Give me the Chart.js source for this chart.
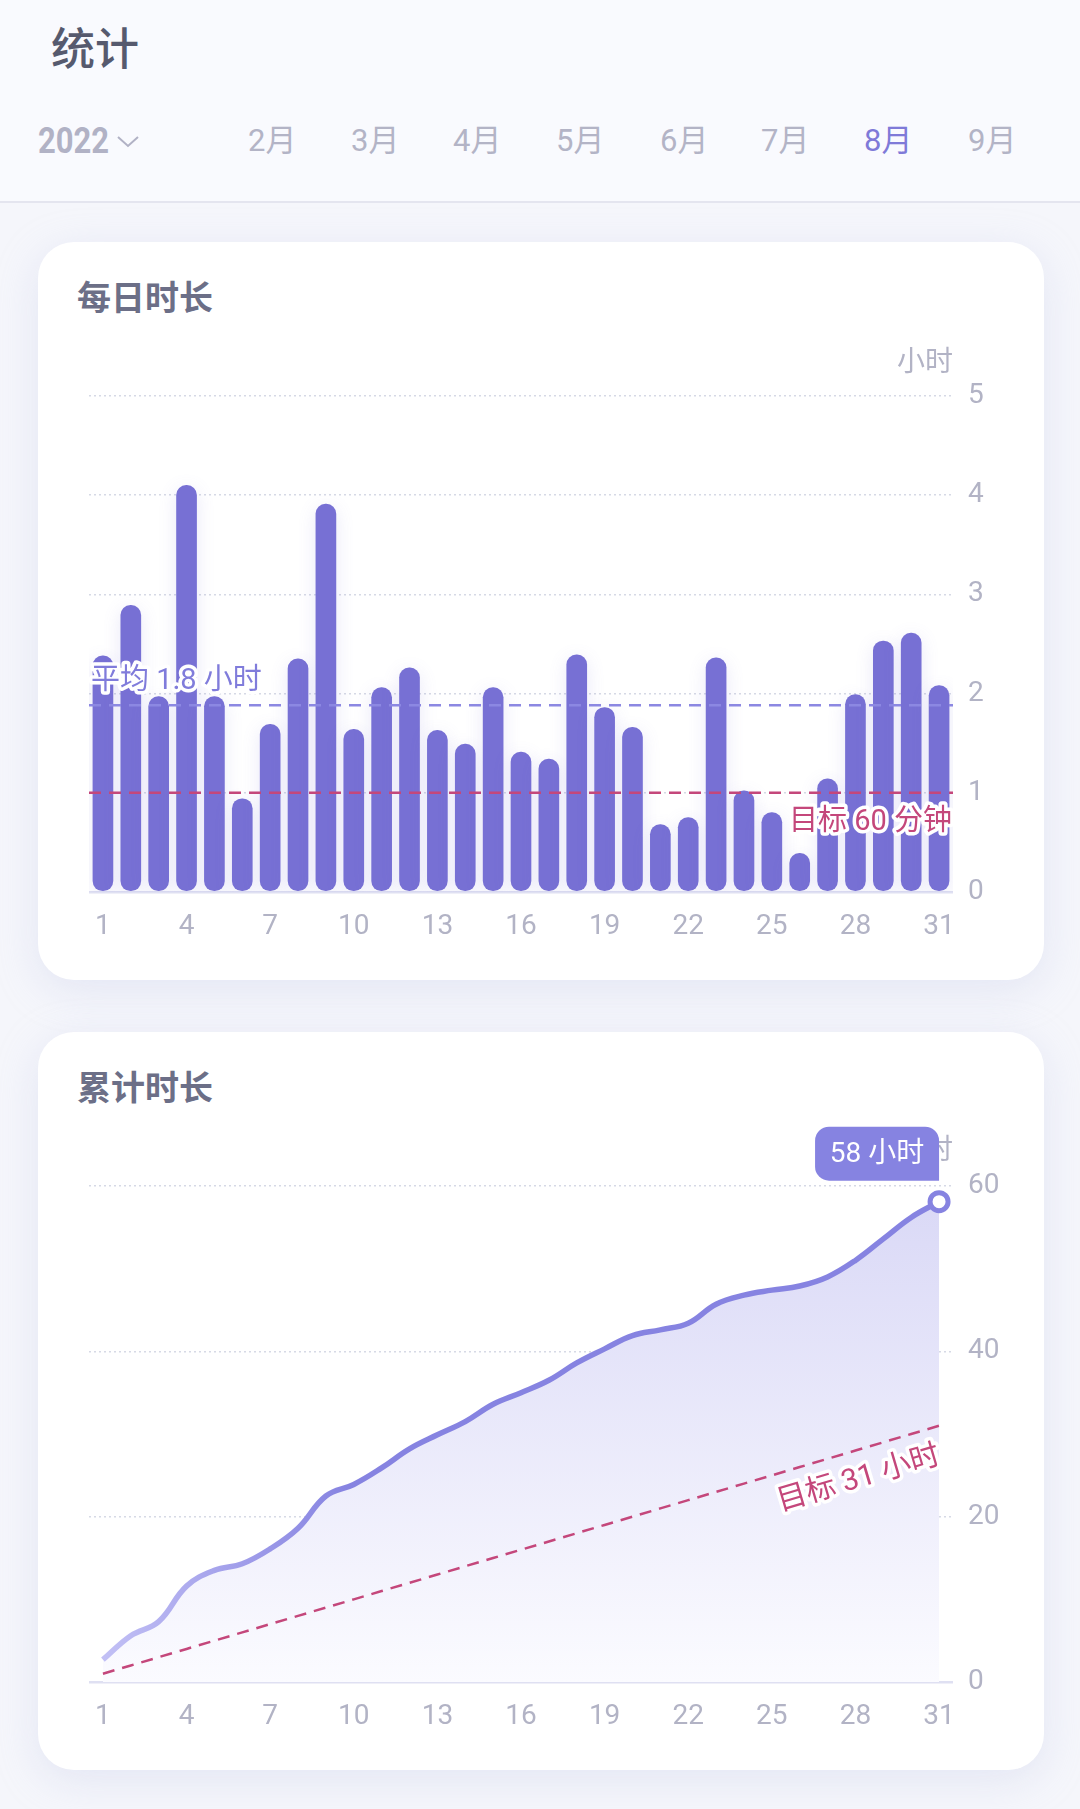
<!DOCTYPE html>
<html lang="zh">
<head>
<meta charset="utf-8">
<title>统计</title>
<script src="https://cdn.jsdelivr.net/npm/chart.js@4.4.1/dist/chart.umd.min.js"></script>
<style>
  html, body { margin: 0; padding: 0; }
  body {
    width: 1080px; height: 1809px; position: relative; overflow: hidden;
    background: #f5f6fb;
    font-family: Roboto, "Noto Sans CJK SC", sans-serif;
  }
  .header {
    position: absolute; left: 0; top: 0; width: 1080px; height: 201px;
    background: #f9fafe; border-bottom: 2px solid #e4e5ef;
  }
  .page-title {
    position: absolute; left: 51px; top: 20px;
    font-family: "Noto Sans CJK SC"; font-size: 44px; line-height: 52px; font-weight: 500;
    color: #565a6e;
  }
  .year {
    position: absolute; left: 38px; top: 121px;
    font-size: 36px; line-height: 40px; font-weight: 700; color: #b1b2c5;
    transform: scaleX(0.86); transform-origin: left center;
  }
  .chev { position: absolute; left: 117px; top: 136px; }
  .month {
    position: absolute; top: 121px;
    font-size: 31px; line-height: 40px; color: #b3b4c6;
  }
  .month.active { color: #7f7ad8; }
  .card {
    position: absolute; left: 38px; width: 1006px; height: 738px;
    background: #fff; border-radius: 36px;
    box-shadow: 0 10px 40px rgba(196, 200, 232, 0.35);
  }
  .card-title {
    position: absolute; left: 39px; top: 34px;
    font-family: "Noto Sans CJK SC"; font-size: 34px; line-height: 40px; font-weight: 700;
    color: #6c6f87;
  }
  .card canvas { position: absolute; left: 0; top: 0; }
</style>
</head>
<body>

<div class="header">
  <div class="page-title">统计</div>
  <div class="year">2022</div>
  <svg class="chev" width="22" height="12" viewBox="0 0 22 12">
    <polyline points="1,1 11,10 21,1" fill="none" stroke="#b1b2c5" stroke-width="2"/>
  </svg>
  <div class="month" style="left:248px">2月</div>
  <div class="month" style="left:351px">3月</div>
  <div class="month" style="left:453px">4月</div>
  <div class="month" style="left:556px">5月</div>
  <div class="month" style="left:660px">6月</div>
  <div class="month" style="left:761px">7月</div>
  <div class="month active" style="left:864px">8月</div>
  <div class="month" style="left:968px">9月</div>
</div>

<div class="card" style="top:242px">
  <div class="card-title">每日时长</div>
  <canvas id="dailyChart" width="1006" height="738"></canvas>
</div>

<div class="card" style="top:1032px">
  <div class="card-title">累计时长</div>
  <canvas id="totalChart" width="1006" height="738"></canvas>
</div>

<script>
// August, one entry per day
const days = ["1", "2", "3", "4", "5", "6", "7", "8", "9", "10", "11", "12", "13", "14", "15", "16",
  "17", "18", "19", "20", "21", "22", "23", "24", "25", "26", "27", "28", "29", "30", "31"];

// hours per day
const dailyHours = [2.38, 2.89, 1.97, 4.10, 1.97, 0.94, 1.69, 2.35, 3.91, 1.64, 2.06, 2.26, 1.63, 1.49, 2.06, 1.41,
  1.34, 2.39, 1.86, 1.66, 0.68, 0.75, 2.36, 1.02, 0.80, 0.39, 1.14, 1.99, 2.53, 2.61, 2.08];

// running total in hours
const totalHours = [2.7, 5.6, 7.3, 11.6, 13.5, 14.3, 16.1, 18.6, 22.5, 23.9, 25.9, 28.2, 29.9, 31.5, 33.6, 35.0,
  36.5, 38.6, 40.3, 41.9, 42.6, 43.4, 45.7, 46.8, 47.4, 47.9, 49.0, 51.0, 53.6, 56.2, 58.1];

// goal: 1 hour a day
const goalDaily = 1;
const goalTotal = [1, 2, 3, 4, 5, 6, 7, 8, 9, 10, 11, 12, 13, 14, 15, 16,
  17, 18, 19, 20, 21, 22, 23, 24, 25, 26, 27, 28, 29, 30, 31];

const dailyTicks = [0, 1, 2, 3, 4, 5];
const totalTicks = [0, 20, 40, 60];

const FONT = 'Roboto, "Noto Sans CJK SC", sans-serif';
const barColor = "#7770d4";
const lineColor = "#8683e1";
const avgColor = "#807cdb";
const goalColor = "#c4477b";
const tickColor = "#b2b3c5";

const avgHours = dailyHours.reduce((a, b) => a + b, 0) / dailyHours.length;

function outlinedText(c, text, x, y, align, color, size) {
  c.save();
  c.font = (size || 29) + "px " + FONT;
  c.textAlign = align;
  c.textBaseline = "middle";
  c.lineJoin = "round";
  c.lineWidth = 7;
  c.strokeStyle = "#fff";
  c.strokeText(text, x, y);
  c.fillStyle = color;
  c.fillText(text, x, y);
  c.restore();
}

function dashedLine(c, x0, y0, x1, y1, color) {
  c.save();
  c.strokeStyle = color;
  c.lineWidth = 2.5;
  c.setLineDash([12, 8]);
  c.beginPath();
  c.moveTo(x0, y0);
  c.lineTo(x1, y1);
  c.stroke();
  c.restore();
}

function unitLabel(c, x, y) {
  c.save();
  c.font = "28px " + FONT;
  c.fillStyle = tickColor;
  c.textAlign = "right";
  c.textBaseline = "middle";
  c.fillText("小时", x, y);
  c.restore();
}

function chartOptions(ticks) {
  return {
    responsive: false,
    animation: false,
    events: [],
    layout: { padding: { left: 51, top: 154, right: 31, bottom: 38 } },
    plugins: { legend: { display: false }, tooltip: { enabled: false } },
    scales: {
      x: {
        offset: true,
        grid: { display: false },
        border: { display: false },
        ticks: {
          font: { family: FONT, size: 28 },
          color: tickColor,
          padding: 10,
          maxRotation: 0,
          autoSkip: false,
          callback: function (value, index) {
            return index % 3 === 0 ? this.getLabelForValue(value) : "";
          },
        },
        afterFit: (s) => { s.height = 50; },
      },
      y: {
        position: "right",
        min: ticks[0],
        max: ticks[ticks.length - 1],
        afterBuildTicks: (s) => { s.ticks = ticks.map((v) => ({ value: v })); },
        ticks: { font: { family: FONT, size: 28 }, color: tickColor, padding: 15 },
        grid: {
          drawTicks: false,
          color: (ctx) => (ctx.tick && ctx.tick.value === 0 ? "#dfe0f2" : "#d6d9e5"),
          lineWidth: (ctx) => (ctx.tick && ctx.tick.value === 0 ? 2.5 : 1.5),
        },
        border: {
          display: false,
          dash: (ctx) => (ctx.tick && ctx.tick.value === 0 ? [] : [2, 3]),
        },
        afterFit: (s) => { s.width = 60; },
      },
    },
  };
}

// soft glow under the bars, dashed marks and their labels
const dailyMarks = {
  id: "dailyMarks",
  beforeDatasetsDraw(chart) {
    const c = chart.ctx;
    c.save();
    c.shadowColor = "rgba(119, 112, 212, 0.16)";
    c.shadowBlur = 18;
    c.shadowOffsetY = 4;
  },
  afterDatasetsDraw(chart) {
    const c = chart.ctx;
    c.restore();
    const { left, right, top } = chart.chartArea;
    const y = chart.scales.y;
    const yGoal = y.getPixelForValue(goalDaily);
    const yAvg = y.getPixelForValue(avgHours);
    dashedLine(c, left, yGoal, right, yGoal, goalColor);
    dashedLine(c, left, yAvg, right, yAvg, "#8c88e2");
    const avgText = "平均 " + (Math.floor(avgHours * 10) / 10).toFixed(1) + " 小时";
    outlinedText(c, avgText, left + 2, yAvg - 24, "left", avgColor);
    outlinedText(c, "目标 " + goalDaily * 60 + " 分钟", right - 1, yGoal + 30, "right", goalColor);
    unitLabel(c, right, top - 32);
  },
};

const totalMarks = {
  id: "totalMarks",
  afterDatasetsDraw(chart) {
    const c = chart.ctx;
    const { right, top } = chart.chartArea;
    const xs = chart.scales.x;
    const ys = chart.scales.y;
    const last = goalTotal.length - 1;

    // goal label along the dashed line
    const x0 = xs.getPixelForValue(0), y0 = ys.getPixelForValue(goalTotal[0]);
    const x1 = xs.getPixelForValue(last), y1 = ys.getPixelForValue(goalTotal[last]);
    c.save();
    c.translate(x1, y1);
    c.rotate(Math.atan2(y1 - y0, x1 - x0));
    outlinedText(c, "目标 " + goalTotal[last] + " 小时", -8, 29, "right", goalColor, 30);
    c.restore();

    unitLabel(c, right, top - 34);

    // badge over the last point
    const n = totalHours.length - 1;
    const px = xs.getPixelForValue(n);
    const py = ys.getPixelForValue(totalHours[n]);
    const w = 124, h = 54;
    c.save();
    c.fillStyle = lineColor;
    c.beginPath();
    c.roundRect(px - w, py - 21 - h, w, h, [14, 14, 0, 14]);
    c.fill();
    c.font = "28px " + FONT;
    c.fillStyle = "#fff";
    c.textAlign = "center";
    c.textBaseline = "middle";
    c.fillText(Math.round(totalHours[n]) + " 小时", px - w / 2, py - 21 - h / 2 + 1);
    c.restore();
  },
};

new Chart(document.getElementById("dailyChart"), {
  type: "bar",
  data: {
    labels: days,
    datasets: [
      {
        data: dailyHours,
        backgroundColor: barColor,
        barThickness: 20,
        borderRadius: 10,
        borderSkipped: false,
      },
    ],
  },
  options: chartOptions(dailyTicks),
  plugins: [dailyMarks],
});

new Chart(document.getElementById("totalChart"), {
  type: "line",
  data: {
    labels: days,
    datasets: [
      {
        data: goalTotal,
        borderColor: goalColor,
        borderWidth: 2.5,
        borderDash: [12, 8],
        pointRadius: 0,
        tension: 0,
        fill: false,
      },
      {
        data: totalHours,
        borderWidth: 5.5,
        tension: 0.4,
        clip: false,
        borderColor: (ctx) => {
          const area = ctx.chart.chartArea;
          if (!area) return lineColor;
          const g = ctx.chart.ctx.createLinearGradient(area.left + 14, 0, area.left + 260, 0);
          g.addColorStop(0, "#c2c0f5");
          g.addColorStop(1, lineColor);
          return g;
        },
        fill: "start",
        backgroundColor: (ctx) => {
          const area = ctx.chart.chartArea;
          if (!area) return "#e6e5f9";
          const g = ctx.chart.ctx.createLinearGradient(0, area.top, 0, area.bottom);
          g.addColorStop(0, "#d9d8f6");
          g.addColorStop(1, "#fbfbff");
          return g;
        },
        pointRadius: totalHours.map((v, i) => (i === totalHours.length - 1 ? 9 : 0)),
        pointBackgroundColor: "#fff",
        pointBorderColor: lineColor,
        pointBorderWidth: 5,
      },
    ],
  },
  options: chartOptions(totalTicks),
  plugins: [totalMarks],
});
</script>
</body>
</html>
